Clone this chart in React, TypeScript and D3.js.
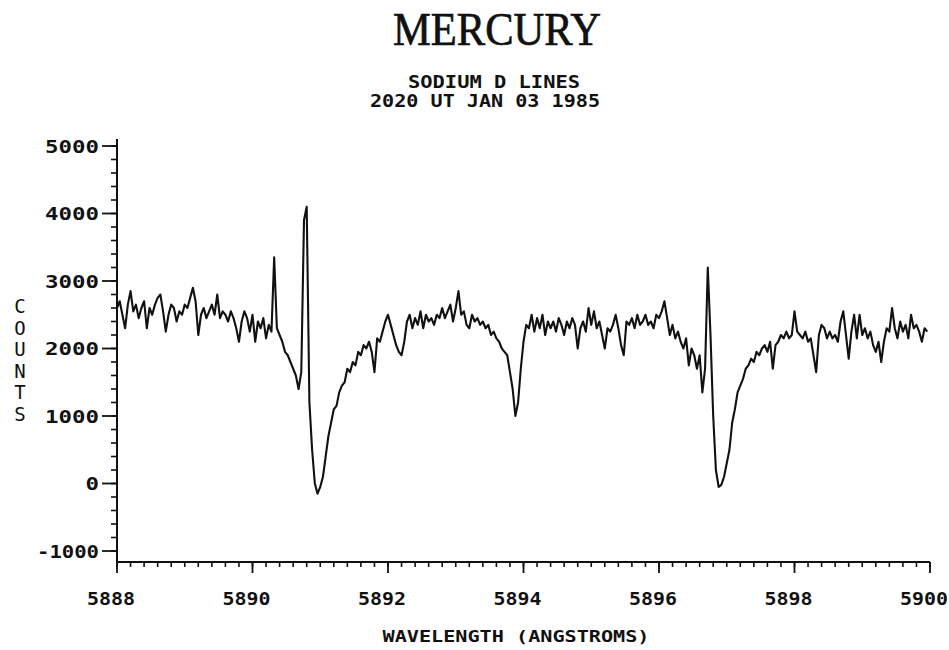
import React from "react";
import * as d3 from "d3";

// ---- Data ----
const TITLE = "MERCURY";
const SUBTITLE_1 = "SODIUM D LINES";
const SUBTITLE_2 = "2020 UT JAN 03 1985";
const X_LABEL = "WAVELENGTH (ANGSTROMS)";
const Y_LABEL = "COUNTS";

const X_TICKS = [5888, 5890, 5892, 5894, 5896, 5898, 5900];
const Y_TICKS = [-1000, 0, 1000, 2000, 3000, 4000, 5000];

// spectrum sampled every 0.04 Å starting at 5888.00 Å
const WAVELENGTH_START = 5888.0;
const WAVELENGTH_STEP = 0.04;
const COUNTS = [
  2600, 2700, 2500, 2300, 2650, 2850, 2550, 2650, 2450, 2600,
  2700, 2300, 2600, 2500, 2650, 2750, 2800, 2550, 2250, 2500,
  2650, 2600, 2400, 2550, 2500, 2650, 2600, 2750, 2900, 2700,
  2200, 2500, 2600, 2450, 2550, 2650, 2500, 2800, 2450, 2550,
  2500, 2400, 2550, 2450, 2300, 2100, 2400, 2550, 2450, 2250,
  2500, 2100, 2400, 2300, 2450, 2150, 2350, 2250, 3350, 2300,
  2200, 2100, 1950, 1900, 1800, 1700, 1600, 1400, 1650, 3900,
  4100, 1200, 500, 0, -150, -50, 100, 400, 700, 900,
  1100, 1150, 1350, 1450, 1500, 1700, 1650, 1800, 1750, 1950,
  1900, 2050, 2000, 2100, 1950, 1650, 2150, 2100, 2250, 2400,
  2500, 2350, 2200, 2050, 1950, 1900, 2100, 2400, 2500, 2300,
  2450, 2350, 2550, 2300, 2500, 2400, 2450, 2350, 2500, 2450,
  2600, 2450, 2550, 2650, 2400, 2600, 2850, 2500, 2550, 2350,
  2300, 2500, 2400, 2450, 2350, 2400, 2300, 2350, 2200, 2250,
  2150, 2100, 2000, 1950, 1900, 1650, 1400, 1000, 1200, 1700,
  2100, 2350, 2300, 2500, 2250, 2450, 2300, 2500, 2200, 2400,
  2300, 2400, 2250, 2450, 2350, 2200, 2400, 2300, 2450, 2350,
  2000, 2300, 2400, 2250, 2600, 2350, 2550, 2300, 2400, 2200,
  2000, 2300, 2250, 2350, 2500, 2300, 2050, 1900, 2400, 2350,
  2450, 2300, 2500, 2350, 2400, 2500, 2350, 2400, 2300, 2500,
  2450, 2550, 2700, 2450, 2200, 2350, 2150, 2250, 2100, 2000,
  2150, 1750, 2000, 1900, 1700, 1900, 1350, 1700, 3200, 2200,
  1000, 200, -50, -20, 100, 300, 500, 900, 1100, 1350,
  1450, 1550, 1700, 1750, 1850, 1800, 1950, 1900, 2000, 2050,
  1950, 2100, 1700, 2050, 2100, 2200, 2150, 2250, 2150, 2200,
  2550, 2250, 2200, 2150, 2250, 2100, 2150, 1900, 1650, 2200,
  2350, 2300, 2150, 2250, 2150, 2200, 2100, 2400, 2550, 2200,
  1850, 2250, 2500, 2150, 2500, 2200, 2300, 2150, 2250, 2050,
  1950, 2100, 1800, 2100, 2300, 2250, 2600, 2300, 2150, 2400,
  2250, 2350, 2150, 2500, 2300, 2350, 2250, 2100, 2300, 2250,
];

// ---- Layout ----
const W = 949;
const H = 650;
const X0 = 117;
const X1 = 930;
const Y_AXIS_TOP = 139;
const X_AXIS_Y = 562;

const PLOT_FONT = "'DejaVu Sans Mono', monospace";

export default function App() {
  const x = d3.scaleLinear().domain([5888, 5900]).range([X0, X1]);
  const y = d3.scaleLinear().domain([-1000, 5000]).range([551, 146]);

  const points = COUNTS.map((c, i) => [WAVELENGTH_START + i * WAVELENGTH_STEP, c] as [number, number]);
  const line = d3
    .line<[number, number]>()
    .x((d) => x(d[0]))
    .y((d) => y(d[1]));

  const xMinor = d3.range(5888, 5900.001, 0.2);
  const yMinor = d3.range(-1000, 5000.001, 200);

  const ink = "#111";

  return (
    <svg
      width={W}
      height={H}
      style={{ position: "absolute", left: 0, top: 0, background: "#fff" }}
    >
      <rect x={0} y={0} width={W} height={H} fill="#fff" />
      {/* Titles */}
      <text
        x={497}
        y={45}
        textAnchor="middle"
        fontFamily="'Liberation Serif', serif"
        fontSize={46}
        fill={ink}
        stroke={ink}
        strokeWidth={0.7}
        textLength={208}
        lengthAdjust="spacingAndGlyphs"
      >
        {TITLE}
      </text>
      <text
        x={494}
        y={88}
        textAnchor="middle"
        fontFamily={PLOT_FONT}
        fontWeight="bold"
        fontSize={17}
        fill={ink}
        textLength={172}
        lengthAdjust="spacingAndGlyphs"
      >
        {SUBTITLE_1}
      </text>
      <text
        x={485}
        y={107}
        textAnchor="middle"
        fontFamily={PLOT_FONT}
        fontWeight="bold"
        fontSize={17}
        fill={ink}
        textLength={230}
        lengthAdjust="spacingAndGlyphs"
      >
        {SUBTITLE_2}
      </text>

      {/* Axes lines */}
      <line x1={X0} x2={X0} y1={Y_AXIS_TOP} y2={X_AXIS_Y} stroke={ink} strokeWidth={2} />
      <line x1={X0} x2={X1} y1={X_AXIS_Y} y2={X_AXIS_Y} stroke={ink} strokeWidth={2} />

      {/* Y minor ticks */}
      {yMinor.map((v, i) => (
        <line key={"ym" + i} x1={X0 - 6} x2={X0} y1={y(v)} y2={y(v)} stroke={ink} strokeWidth={1.6} />
      ))}
      {/* Y major ticks + labels */}
      {Y_TICKS.map((v) => {
        const s = String(v);
        const digits = s.replace("-", "").length;
        const len = digits * 13.5 + (v < 0 ? 8 : 0);
        return (
          <g key={"y" + v}>
            <line x1={X0 - 15} x2={X0} y1={y(v)} y2={y(v)} stroke={ink} strokeWidth={1.8} />
            <text
              x={99}
              y={y(v) + 6.5}
              textAnchor="end"
              fontFamily={PLOT_FONT}
              fontWeight="bold"
              fontSize={18}
              fill={ink}
              textLength={len}
              lengthAdjust="spacingAndGlyphs"
            >
              {s}
            </text>
          </g>
        );
      })}

      {/* X minor ticks */}
      {xMinor.map((v, i) => (
        <line key={"xm" + i} x1={x(v)} x2={x(v)} y1={X_AXIS_Y} y2={X_AXIS_Y + 5} stroke={ink} strokeWidth={1.6} />
      ))}
      {/* X major ticks + labels */}
      {X_TICKS.map((v) => (
        <g key={"x" + v}>
          <line x1={x(v)} x2={x(v)} y1={X_AXIS_Y} y2={X_AXIS_Y + 11} stroke={ink} strokeWidth={1.8} />
          <text
            x={x(v) - 6}
            y={605}
            textAnchor="middle"
            fontFamily={PLOT_FONT}
            fontWeight="bold"
            fontSize={17}
            fill={ink}
            textLength={48}
            lengthAdjust="spacingAndGlyphs"
          >
            {String(v)}
          </text>
        </g>
      ))}

      {/* Axis titles */}
      <text
        x={516}
        y={642}
        textAnchor="middle"
        fontFamily={PLOT_FONT}
        fontWeight="bold"
        fontSize={16}
        fill={ink}
        textLength={267}
        lengthAdjust="spacingAndGlyphs"
      >
        {X_LABEL}
      </text>
      {Y_LABEL.split("").map((ch, i) => (
        <text
          key={"yl" + i}
          x={20}
          y={313 + i * 21.6}
          textAnchor="middle"
          fontFamily={PLOT_FONT}
          fontSize={19}
          fill={ink}
        >
          {ch}
        </text>
      ))}

      {/* Spectrum */}
      <path
        d={line(points) || ""}
        fill="none"
        stroke={ink}
        strokeWidth={2.1}
        strokeLinejoin="round"
      />
    </svg>
  );
}
